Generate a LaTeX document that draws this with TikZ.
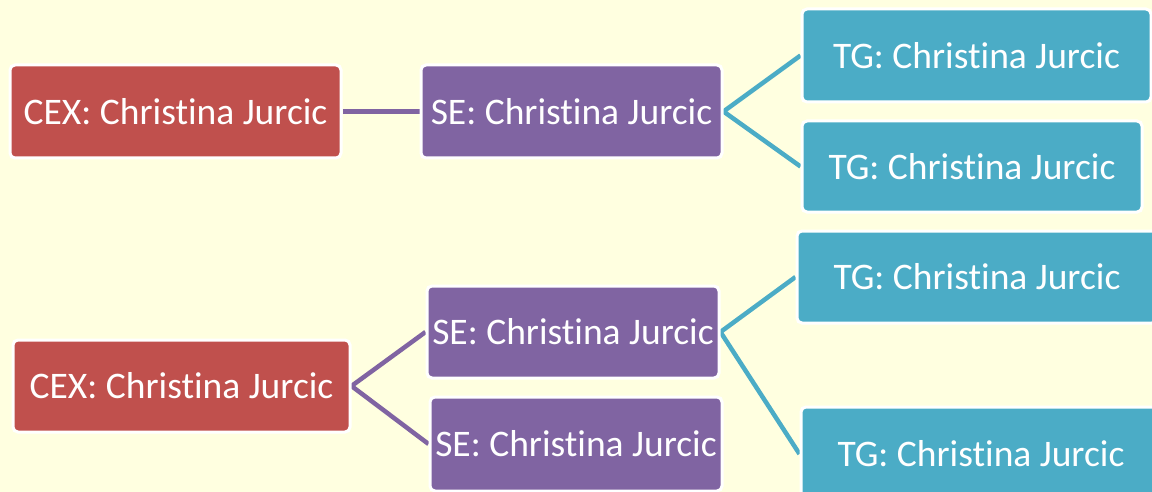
\documentclass[tikz,border=0pt]{standalone}
\usepackage{fontspec}
\setmainfont{Carlito}[Ligatures={NoCommon}]
\usetikzlibrary{backgrounds}
\definecolor{bgy}{HTML}{FFFFE0}
\definecolor{cexred}{HTML}{C0504D}
\definecolor{sepurple}{HTML}{8064A2}
\definecolor{tgblue}{HTML}{4BACC6}
\tikzset{
  box/.style={draw=white, line width=3pt, rounded corners=5pt, inner sep=0pt,
    text=white, font=\fontsize{37.5}{40}\selectfont},
  cexbox/.style={box, fill=cexred},
  sebox/.style={box, fill=sepurple},
  tgbox/.style={box, fill=tgblue},
  link/.style={line width=4.5pt},
}
\begin{document}
\begin{tikzpicture}[x=1pt,y=-1pt]
\useasboundingbox (0,0) rectangle (1152,492);
% top group
\node[cexbox, minimum width=331pt, minimum height=93pt] (c1) at (175.5,111.5) {CEX: Christina Jurcic};
\node[sebox, minimum width=301pt, minimum height=93pt] (s1) at (571.5,111.5) {SE: Christina Jurcic};
\node[tgbox, minimum width=349pt, minimum height=93pt] (t1) at (976.5,55.5) {TG: Christina Jurcic};
\node[tgbox, minimum width=340pt, minimum height=91pt] (t2) at (972,166.5) {TG: Christina Jurcic};
% bottom group
\node[cexbox, minimum width=337pt, minimum height=92pt] (c2) at (181.5,386) {CEX: Christina Jurcic};
\node[sebox, minimum width=292pt, minimum height=92pt] (s3) at (573,332) {SE: Christina Jurcic};
\node[sebox, minimum width=292pt, minimum height=94pt] (s4) at (576,444) {SE: Christina Jurcic};
\node[tgbox, minimum width=360pt, minimum height=92pt] (t3) at (977,277) {TG: Christina Jurcic};
\node[tgbox, minimum width=360pt, minimum height=94pt] (t4) at (981,454) {TG: Christina Jurcic};
\begin{scope}[on background layer]
\fill[bgy] (0,0) rectangle (1152,492);
\draw[link, sepurple] (c1.east) -- (s1.west);
\draw[link, tgblue] (t1.west) -- (s1.east) -- (t2.west);
\draw[link, sepurple] (s3.west) -- (c2.east) -- (s4.west);
\draw[link, tgblue] (t3.west) -- (s3.east) -- (t4.west);
\end{scope}
\end{tikzpicture}
\end{document}
